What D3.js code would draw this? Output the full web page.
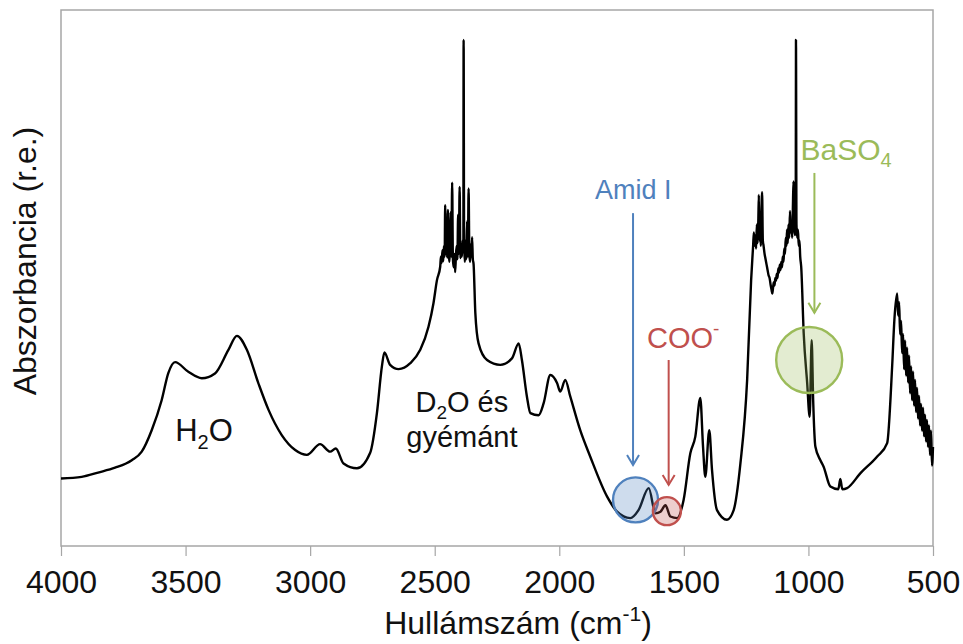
<!DOCTYPE html>
<html>
<head>
<meta charset="utf-8">
<script src="https://cdn.jsdelivr.net/npm/d3@7"></script>
<style>
  html, body { margin: 0; padding: 0; background: #fff; }
  svg { display: block; font-family: "Liberation Sans", Arial, sans-serif; }
</style>
</head>
<body>
<svg id="chart" width="963" height="644"></svg>
<script>
// ---- data ----
const wavenumber = [
  4000, 3917, 3851, 3783, 3716, 3676, 3636, 3596, 3569, 3542, 3489, 3435, 3382, 3328, 3294, 3254,
  3208, 3167, 3114, 3060, 3013, 2960, 2920, 2897, 2866, 2812, 2759, 2732, 2712, 2702, 2679, 2645,
  2598, 2558, 2525, 2505, 2491,
  2478, 2475, 2472, 2469, 2466, 2463, 2460, 2458, 2456, 2453, 2450, 2447, 2444, 2441, 2438, 2436,
  2433, 2430, 2427, 2424, 2421, 2418, 2415, 2412, 2409, 2406, 2403, 2400, 2397, 2394, 2391, 2388,
  2385, 2384, 2382, 2379, 2376, 2373, 2370, 2367, 2364, 2361, 2358, 2355, 2352, 2350, 2347, 2344,
  2337, 2324, 2290, 2237, 2190, 2163, 2150, 2130, 2116, 2083, 2063, 2036, 2009, 1996, 1976, 1956,
  1916, 1876, 1808, 1768, 1715, 1682, 1641, 1614, 1594, 1574, 1554, 1527, 1501, 1474, 1454, 1434,
  1423, 1414, 1398, 1387, 1367, 1327, 1300, 1273, 1246, 1230,
  1222, 1219, 1216, 1213, 1210, 1207, 1204, 1201, 1199, 1197, 1194, 1191, 1189, 1186, 1183, 1180,
  1176, 1172, 1168, 1164, 1160, 1156, 1152, 1148, 1145, 1142, 1139, 1136, 1133, 1130, 1127, 1124,
  1121, 1118, 1115, 1112, 1109, 1106, 1103, 1100, 1097, 1094, 1091, 1088, 1086, 1083, 1080, 1077,
  1074, 1071, 1068, 1065, 1062, 1060, 1057, 1054, 1051, 1050, 1048, 1045, 1042, 1039, 1036, 1033,
  1029, 1019, 1005, 995, 987, 981, 972, 952, 939, 912, 880, 872, 864, 845, 791, 724, 684, 664, 655,
  644, 640, 636, 632, 628, 624, 620, 616, 612, 608, 604, 600, 596, 592, 588, 584, 580, 576, 572, 568,
  564, 560, 556, 552, 548, 544, 540, 536, 532, 528, 524, 520, 516, 512, 508, 504, 500
];
const absorbance = [
  0.126, 0.129, 0.137, 0.146, 0.160, 0.176, 0.216, 0.272, 0.323, 0.343, 0.325, 0.313, 0.322, 0.366, 0.392, 0.366,
  0.304, 0.254, 0.207, 0.179, 0.170, 0.190, 0.176, 0.182, 0.154, 0.145, 0.174, 0.248, 0.335, 0.361, 0.338, 0.330,
  0.341, 0.366, 0.409, 0.453, 0.496,
  0.521, 0.540, 0.528, 0.552, 0.531, 0.560, 0.540, 0.636, 0.545, 0.600, 0.538, 0.627, 0.548, 0.530, 0.560, 0.623,
  0.540, 0.678, 0.535, 0.520, 0.545, 0.511, 0.540, 0.560, 0.535, 0.618, 0.545, 0.670, 0.537, 0.560, 0.540, 0.570,
  0.550, 0.944, 0.560, 0.530, 0.570, 0.535, 0.606, 0.540, 0.667, 0.545, 0.530, 0.563, 0.540, 0.576, 0.535, 0.526,
  0.435, 0.378, 0.347, 0.338, 0.350, 0.378, 0.347, 0.279, 0.248, 0.244, 0.266, 0.319, 0.304, 0.288, 0.310, 0.279,
  0.216, 0.167, 0.092, 0.064, 0.052, 0.067, 0.108, 0.061, 0.064, 0.076, 0.055, 0.052, 0.086, 0.173, 0.204, 0.276,
  0.185, 0.129, 0.216, 0.142, 0.067, 0.049, 0.067, 0.154, 0.310, 0.496,
  0.560, 0.585, 0.560, 0.580, 0.555, 0.600, 0.565, 0.610, 0.655, 0.570, 0.590, 0.560, 0.615, 0.660, 0.570, 0.560,
  0.545, 0.535, 0.525, 0.515, 0.505, 0.500, 0.488, 0.478, 0.471, 0.482, 0.492, 0.486, 0.500, 0.495, 0.508, 0.500,
  0.518, 0.510, 0.525, 0.515, 0.530, 0.520, 0.540, 0.530, 0.555, 0.545, 0.575, 0.560, 0.590, 0.565, 0.600, 0.575,
  0.625, 0.585, 0.600, 0.575, 0.640, 0.680, 0.595, 0.580, 0.600, 0.944, 0.600, 0.575, 0.590, 0.560, 0.570, 0.540,
  0.521, 0.397, 0.304, 0.241, 0.384, 0.272, 0.185, 0.160, 0.148, 0.111, 0.106, 0.125, 0.106, 0.108, 0.136, 0.167, 0.192, 0.335, 0.422,
  0.471, 0.430, 0.455, 0.395, 0.420, 0.360, 0.395, 0.330, 0.383, 0.318, 0.370, 0.305, 0.355, 0.285, 0.335, 0.272, 0.325, 0.262, 0.310, 0.250,
  0.295, 0.238, 0.280, 0.225, 0.265, 0.215, 0.258, 0.205, 0.245, 0.195, 0.235, 0.185, 0.225, 0.170, 0.215, 0.150, 0.185
];
const xTicks = [4000, 3500, 3000, 2500, 2000, 1500, 1000, 500];

// annotation anchors (wavenumber, absorbance)
const circleLabels = ["Amid I", "COO", "BaSO"];
const circleColors = ["#4F81BD", "#C0504D", "#9BBB59"];
const circleCenterWn = [1694, 1568, 997];
const circleCenterAbs = [0.086, 0.065, 0.347];
const circleRadius = [22.5, 14, 33];
const arrowWn = [1704, 1561, 976];
const arrowFromAbs = [0.621, 0.347, 0.696];
const arrowToAbs = [0.151, 0.114, 0.435];

// ---- layout ----
const svg = d3.select("#chart");
const mLeft = 61, mRight = 933, mTop = 10, mBottom = 546;
const x = d3.scaleLinear().domain([4000, 500]).range([mLeft, mRight]);
const y = d3.scaleLinear().domain([0, 1]).range([mBottom, mTop]);
const frameColor = "#a6a6a6";

// frame
svg.append("rect")
  .attr("x", mLeft).attr("y", mTop)
  .attr("width", mRight - mLeft).attr("height", mBottom - mTop)
  .attr("fill", "none").attr("stroke", frameColor).attr("stroke-width", 1.5);

// x axis
const axG = svg.append("g")
  .attr("transform", `translate(0,${mBottom})`)
  .call(d3.axisBottom(x).tickValues(xTicks).tickFormat(d3.format("d")).tickSize(10).tickPadding(14));
axG.select(".domain").remove();
axG.selectAll(".tick line").attr("stroke", frameColor).attr("stroke-width", 1.2);
axG.selectAll(".tick text")
  .attr("fill", "#111").attr("font-size", 32)
  .attr("font-family", '"Liberation Sans", Arial, sans-serif');

// axis titles
const xt = svg.append("text")
  .attr("x", 518).attr("y", 634)
  .attr("text-anchor", "middle").attr("font-size", 32).attr("fill", "#111");
xt.append("tspan").text("Hullámszám (cm");
xt.append("tspan").attr("font-size", 21).attr("dy", -13).text("-1");
xt.append("tspan").attr("dy", 13).text(")");

svg.append("text")
  .attr("transform", "translate(36,261) rotate(-90)")
  .attr("text-anchor", "middle").attr("font-size", 32).attr("fill", "#111")
  .text("Abszorbancia (r.e.)");

// spectrum (drawn in ascending wavenumber order for the monotone curve)
const pts = wavenumber.map((w, i) => [w, absorbance[i]]).sort((a, b) => a[0] - b[0]);
svg.append("path")
  .datum(pts)
  .attr("fill", "none").attr("stroke", "#000").attr("stroke-width", 2.4)
  .attr("stroke-linejoin", "round")
  .attr("d", d3.line().curve(d3.curveMonotoneX).x(d => x(d[0])).y(d => y(d[1])));

// text labels on the spectrum
const h2o = svg.append("text").attr("x", x(3426)).attr("y", y(0.196))
  .attr("text-anchor", "middle").attr("font-size", 31).attr("fill", "#111");
h2o.append("tspan").text("H");
h2o.append("tspan").attr("font-size", 20).attr("dy", 8).text("2");
h2o.append("tspan").attr("dy", -8).text("O");

const d2o = svg.append("text").attr("x", x(2391)).attr("y", y(0.250))
  .attr("text-anchor", "middle").attr("font-size", 29).attr("fill", "#111");
d2o.append("tspan").text("D");
d2o.append("tspan").attr("font-size", 19).attr("dy", 7).text("2");
d2o.append("tspan").attr("dy", -7).text("O és");
svg.append("text").attr("x", x(2391)).attr("y", y(0.184))
  .attr("text-anchor", "middle").attr("font-size", 29).attr("fill", "#111")
  .text("gyémánt");

// circles and arrows
circleLabels.forEach((lab, i) => {
  svg.append("circle")
    .attr("cx", x(circleCenterWn[i])).attr("cy", y(circleCenterAbs[i]))
    .attr("r", circleRadius[i])
    .attr("fill", circleColors[i]).attr("fill-opacity", 0.28)
    .attr("stroke", circleColors[i]).attr("stroke-width", 2.4);
  const ax0 = x(arrowWn[i]), y0 = y(arrowFromAbs[i]), y1 = y(arrowToAbs[i]);
  svg.append("line")
    .attr("x1", ax0).attr("x2", ax0).attr("y1", y0).attr("y2", y1)
    .attr("stroke", circleColors[i]).attr("stroke-width", 2);
  svg.append("path")
    .attr("d", `M${ax0 - 6},${y1 - 10}L${ax0},${y1}L${ax0 + 6},${y1 - 10}`)
    .attr("fill", "none").attr("stroke", circleColors[i]).attr("stroke-width", 2);
});

// coloured labels
svg.append("text").attr("x", x(1703)).attr("y", y(0.647))
  .attr("text-anchor", "middle").attr("font-size", 27).attr("fill", circleColors[0])
  .text("Amid I");

const coo = svg.append("text").attr("x", x(1648)).attr("y", y(0.369))
  .attr("font-size", 29).attr("fill", circleColors[1]);
coo.append("tspan").text("COO");
coo.append("tspan").attr("font-size", 19).attr("dy", -13).text("-");

const ba = svg.append("text").attr("x", x(1032)).attr("y", y(0.720))
  .attr("font-size", 30).attr("fill", circleColors[2]);
ba.append("tspan").text("BaSO");
ba.append("tspan").attr("font-size", 20).attr("dy", 7).text("4");
</script>
</body>
</html>
